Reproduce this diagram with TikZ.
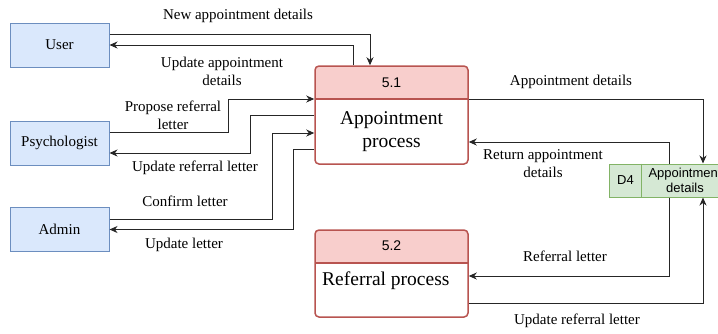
\documentclass[tikz,border=0pt]{standalone}
\usepackage{fontspec}
\setmainfont{Liberation Serif}
\newfontfamily\arialfont{Liberation Sans}
\usetikzlibrary{arrows.meta}
\definecolor{extfill}{HTML}{DAE8FC}
\definecolor{extline}{HTML}{6C8EBF}
\definecolor{procfill}{HTML}{F8CECC}
\definecolor{procline}{HTML}{B85450}
\definecolor{storefill}{HTML}{D5E8D4}
\definecolor{storeline}{HTML}{82B366}

\begin{document}
\begin{tikzpicture}[x=1pt, y=-1pt, >={Stealth[length=8pt,width=7pt,inset=2.5pt]},
    ext/.style={draw=extline, fill=extfill, line width=1pt, minimum width=99pt, minimum height=44pt, inner sep=0pt, font=\fontsize{15}{18}\selectfont},
    proc/.style={draw=procline, fill=white, line width=1.5pt, rounded corners=4pt, minimum width=153pt, inner sep=0pt,
        path picture={\fill[procfill, sharp corners] (path picture bounding box.north west) rectangle ([yshift=-33pt]path picture bounding box.north east);
            \draw[procline, line width=1.5pt, sharp corners] ([yshift=-33pt]path picture bounding box.north west) -- ([yshift=-33pt]path picture bounding box.north east);}},
    procnum/.style={font=\arialfont\fontsize{14}{16}\selectfont, inner sep=0pt},
    proctxt/.style={font=\fontsize{19.5}{23}\selectfont, align=center, inner sep=0pt},
    store/.style={draw=storeline, fill=storefill, line width=1pt, minimum width=119pt, minimum height=33pt, inner sep=0pt},
    storetxt/.style={font=\arialfont\fontsize{13}{15}\selectfont, align=center, inner sep=0pt},
    flow/.style={->, line width=1pt, draw=black!85},
    lbl/.style={font=\fontsize{15}{18}\selectfont, align=center, inner sep=0pt}]
  \useasboundingbox (0,0) rectangle (718,333);
  \clip (0,0) rectangle (718,333);

  \node[ext] (user) at (59.5,45) {User};
  \node[ext] (psy) at (59.5,143) {Psychologist};
  \node[ext] (admin) at (59.5,229.5) {Admin};

  \node[proc, minimum height=98pt] (p1) at (391.5,115) {};
  \node[procnum] (p1num) at (391.5,82.5) {5.1};
  \node[proctxt] (p1txt) at (391.5,131.5) {Appointment\\process};

  \node[proc, minimum height=87pt] (p2) at (391.5,273.5) {};
  \node[procnum] (p2num) at (391.5,246) {5.2};
  \node[proctxt, anchor=west] (p2txt) at (322,281) {Referral process};

  \node[store] (d4) at (668.5,180.5) {};
  \draw[storeline, line width=1pt] ([xshift=33pt]d4.north west) -- ([xshift=33pt]d4.south west);
  \node[storetxt] (d4id) at (625.5,180.5) {D4};
  \node[storetxt] (d4txt) at (685,180.5) {Appointment\\details};

  \draw[flow] ([yshift=11pt]user.east) -| ([xshift=-21.5pt]p1.north);
  \draw[flow] ([xshift=-38.5pt]p1.north) |- (user.east);
  \draw[flow] ([yshift=11pt]psy.east) -| (228,99) -- ([yshift=16pt]p1.west);
  \draw[flow] (p1.west) -| (250,153) -- ([yshift=-10pt]psy.east);
  \draw[flow] ([yshift=10.5pt]admin.east) -| (272,133) -- ([yshift=-18pt]p1.west);
  \draw[flow] ([yshift=-34pt]p1.west) -| (293,229.5) -- (admin.east);
  \draw[flow] ([yshift=16pt]p1.east) -| ([xshift=34.5pt]d4.north);
  \draw[flow] ([xshift=0.5pt]d4.north) |- ([yshift=-27pt]p1.east);
  \draw[flow] ([xshift=0.5pt]d4.south) |- ([yshift=-2.5pt]p2.east);
  \draw[flow] ([yshift=-29.5pt]p2.east) -| ([xshift=34.5pt]d4.south);

  \node[lbl] (l1) at (238,16) {New appointment details};
  \node[lbl] (l2) at (222,71) {Update appointment\\details};
  \node[lbl] (l3) at (173,115) {Propose referral\\letter};
  \node[lbl] (l4) at (195,168) {Update referral letter};
  \node[lbl] (l5) at (185,201) {Confirm letter};
  \node[lbl] (l6) at (184,245) {Update letter};
  \node[lbl] (l7) at (571,82) {Appointment details};
  \node[lbl] (l8) at (543,164) {Return appointment\\details};
  \node[lbl] (l9) at (565,256) {Referral letter};
  \node[lbl] (l10) at (577,321) {Update referral letter};
\end{tikzpicture}
\end{document}
